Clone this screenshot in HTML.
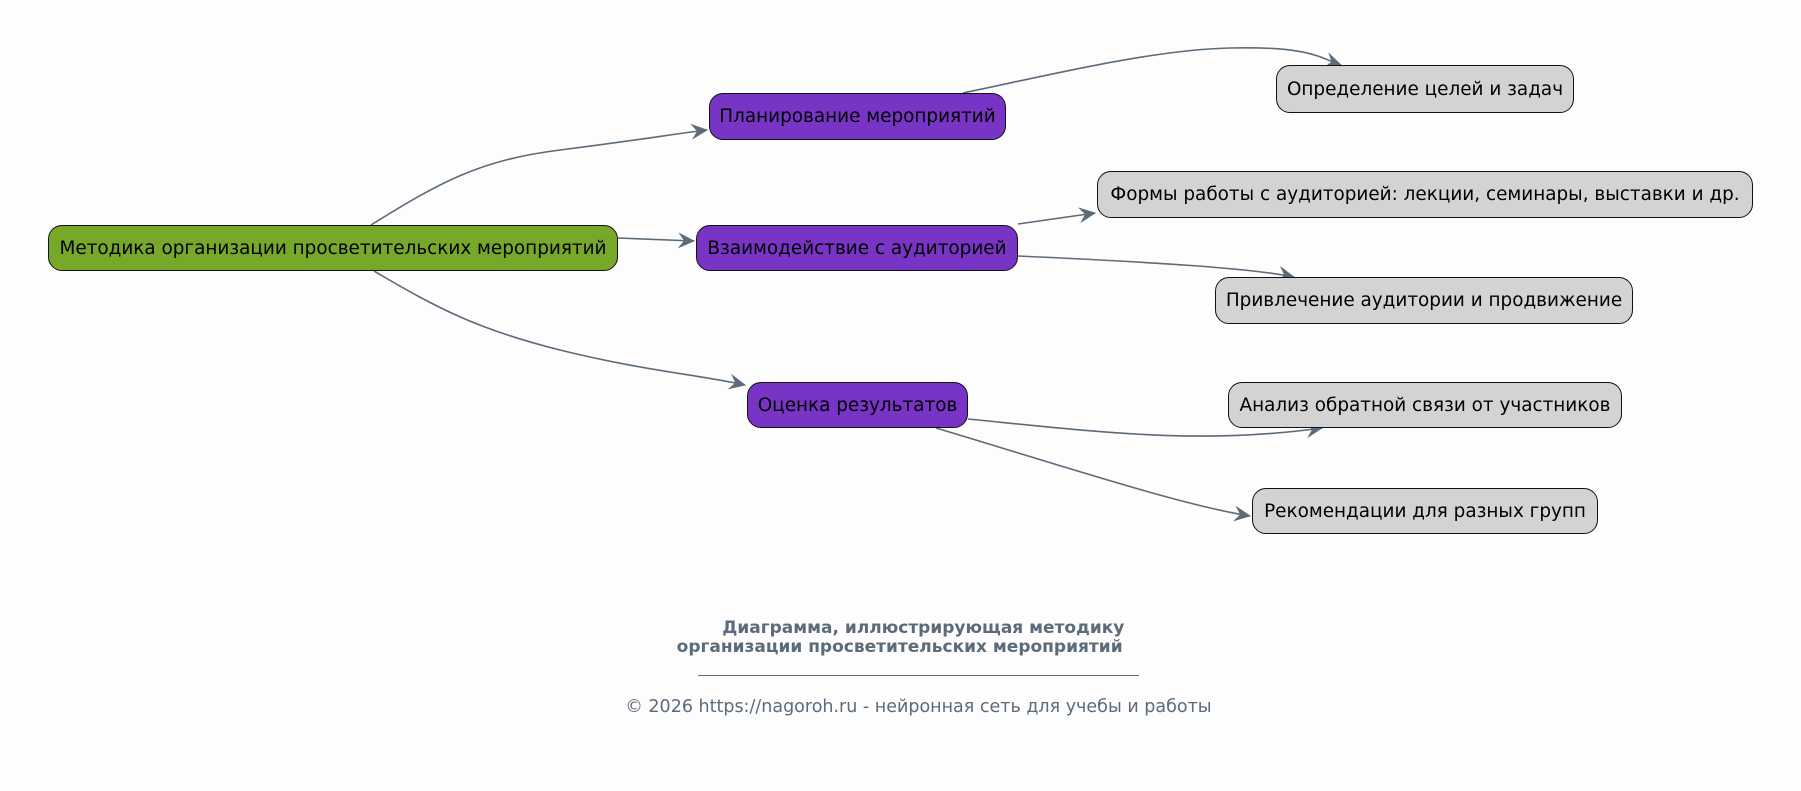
<!DOCTYPE html>
<html><head><meta charset="utf-8"><style>
html,body{margin:0;padding:0;background:#fdfdfd;}
body{width:1801px;height:791px;position:relative;overflow:hidden;font-family:"DejaVu Sans","Liberation Sans",sans-serif;}
.n{position:absolute;box-sizing:border-box;border:1.3px solid #111;border-radius:14px;display:flex;align-items:center;justify-content:center;font-size:18.4px;color:#000;white-space:nowrap;}
.g{background:#77a82a}.p{background:#7734c5}.s{background:#d3d3d3}
.t{position:absolute;left:0;width:1801px;text-align:center;color:#5c6b7a;}
</style></head><body>
<svg width="1801" height="791" style="position:absolute;left:0;top:0">
<defs><marker id="a" markerWidth="18" markerHeight="16" refX="16" refY="8" orient="auto" markerUnits="userSpaceOnUse">
<path d="M0,0 L17,8 L0,16 L6,8 z" fill="#5c6b7a"/></marker></defs>
<g fill="none" stroke="#5c6b7a" stroke-width="1.6" marker-end="url(#a)">
<path d="M371,225 C440,182 480,160 560,150 S680,133 707,130"/>
<path d="M618,238 L694,241"/>
<path d="M374,271 C440,310 480,330 560,350 S700,375 745,385"/>
<path d="M963,93 C1050,75 1150,50 1230,48 S1320,58 1341,65"/>
<path d="M1018,224 L1095,213"/>
<path d="M1018,256 C1150,262 1250,268 1294,277"/>
<path d="M968,419 C1100,432 1200,445 1322,428"/>
<path d="M936,428 C1050,462 1180,505 1250,516"/>
</g></svg>
<div class="n g" style="left:48px;top:225px;width:570px;height:46px">Методика организации просветительских мероприятий</div>
<div class="n p" style="left:709px;top:93px;width:297px;height:47px">Планирование мероприятий</div>
<div class="n p" style="left:696px;top:225px;width:322px;height:46px">Взаимодействие с аудиторией</div>
<div class="n p" style="left:747px;top:382px;width:221px;height:46px">Оценка результатов</div>
<div class="n s" style="left:1276px;top:65px;width:298px;height:48px">Определение целей и задач</div>
<div class="n s" style="left:1097px;top:171px;width:656px;height:47px">Формы работы с аудиторией: лекции, семинары, выставки и др.</div>
<div class="n s" style="left:1215px;top:277px;width:418px;height:47px">Привлечение аудитории и продвижение</div>
<div class="n s" style="left:1228px;top:382px;width:394px;height:46px">Анализ обратной связи от участников</div>
<div class="n s" style="left:1252px;top:488px;width:346px;height:46px">Рекомендации для разных групп</div>
<div class="t" style="top:619px;font-weight:bold;font-size:17px;line-height:19px;left:8px">&nbsp;&nbsp;&nbsp;&nbsp;&nbsp;Диаграмма, иллюстрирующая методику<br>организации просветительских мероприятий&nbsp;&nbsp;&nbsp;</div>
<div style="position:absolute;left:698px;top:675px;width:441px;height:1px;background:#5c6b7a"></div>
<div class="t" style="top:697px;font-size:17.5px;left:18px">© 2026 https://nagoroh.ru - нейронная сеть для учебы и работы</div>
</body></html>
